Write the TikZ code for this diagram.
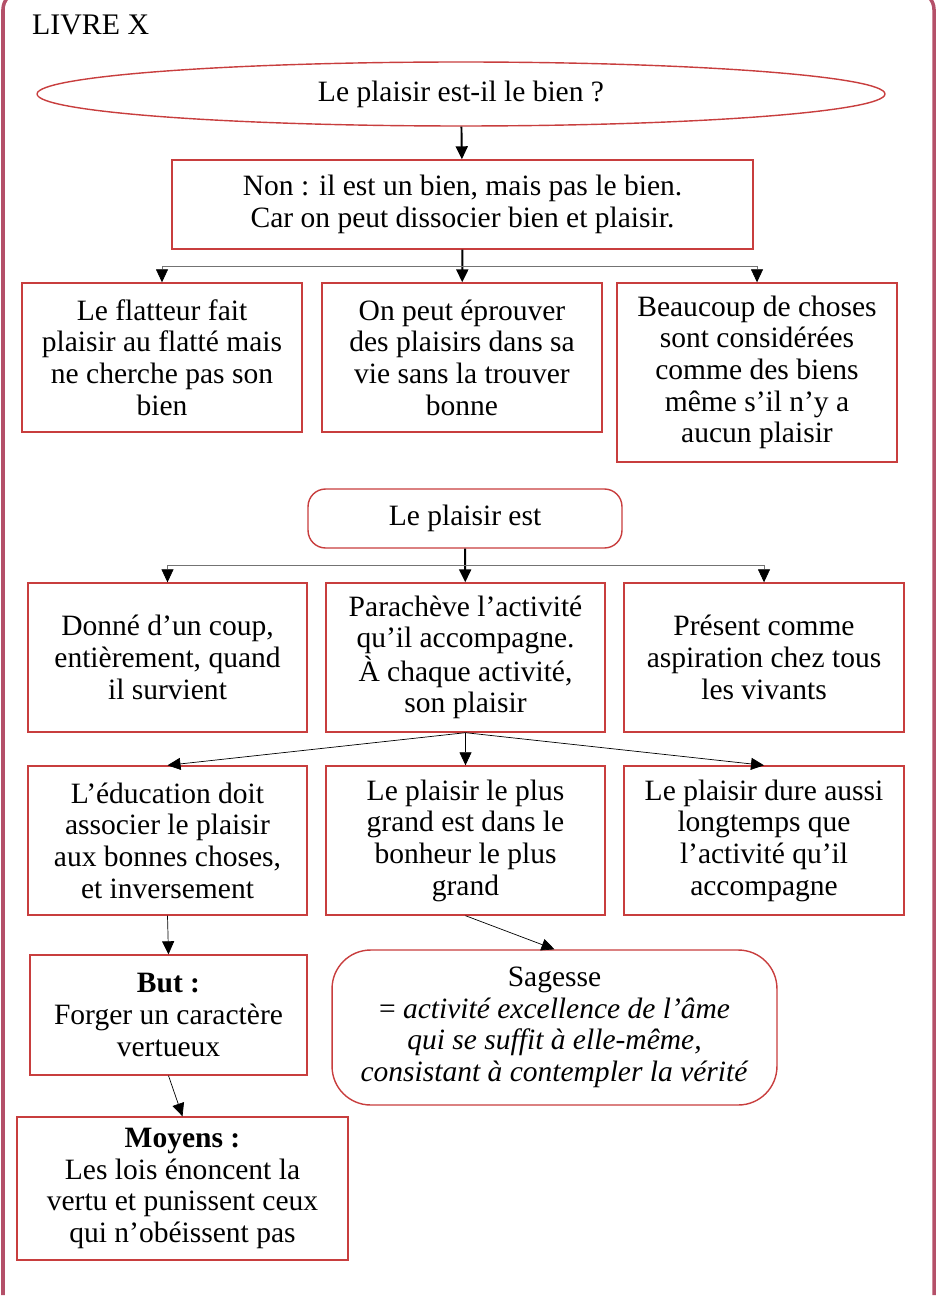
\documentclass[tikz,border=0pt]{standalone}
\usepackage{fontspec}
\setmainfont{Liberation Serif}
\usetikzlibrary{positioning,arrows.meta,shapes.geometric}
\definecolor{boxred}{RGB}{200,62,62}
\definecolor{framerose}{RGB}{180,80,105}
\begin{document}
\begin{tikzpicture}[
      x=0.02cm, y=-0.02cm,
      every node/.style={font=\fontsize{16.8}{18}\selectfont, align=center},
      box/.style={draw=boxred, line width=0.8pt, inner sep=2pt},
      rbox/.style={box, rounded corners=10pt},
      oval/.style={draw=boxred, line width=0.8pt, ellipse, inner sep=0pt},
      trunk/.style={-{Triangle[length=0.26cm,width=0.24cm]}, line width=1.1pt},
      branch/.style={-{Triangle[length=0.26cm,width=0.24cm,color=black]}, line width=0.4pt, draw=black!55},
      arrow/.style={-{Triangle[length=0.26cm,width=0.24cm]}, line width=0.4pt},
    ]
    \useasboundingbox (0,0) rectangle (937,1297);
    \draw[framerose, line width=2pt] (3,1295) [rounded corners=10pt] -- (3,-8) -- (934,-8) [sharp corners] -- (934,1295);

    \node[anchor=west, font=\fontsize{17}{19}\selectfont] (titre) at (26,25) {LIVRE X};

    % question
    \node[oval, minimum width=16.96cm, minimum height=1.28cm] (q) at (461,94) {Le plaisir est-il le bien ?};
    \node[box, minimum width=11.62cm, minimum height=1.78cm] (non) at (462.5,204.5)
      {Non : il est un bien, mais pas le bien.\\ Car on peut dissocier bien et plaisir.};

    % premiere rangee
    \node[box, minimum width=5.6cm, minimum height=2.98cm] (flat) at (162,357.5)
      {Le flatteur fait\\ plaisir au flatté mais\\ ne cherche pas son\\ bien};
    \node[box, minimum width=5.6cm, minimum height=2.98cm] (vie) at (462,357.5)
      {On peut éprouver\\ des plaisirs dans sa\\ vie sans la trouver\\ bonne};
    \node[box, minimum width=5.6cm, minimum height=3.58cm] (choses) at (757,372.5)
      {Beaucoup de choses\\ sont considérées\\ comme des biens\\ même s’il n’y a\\ aucun plaisir};

    \node[rbox, minimum width=6.28cm, minimum height=1.18cm] (est) at (465,518.5) {Le plaisir est};

    % deuxieme rangee
    \node[box, minimum width=5.58cm, minimum height=2.98cm] (coup) at (167.5,657.5)
      {Donné d’un coup,\\ entièrement, quand\\ il survient};
    \node[box, minimum width=5.58cm, minimum height=2.98cm] (acheve) at (465.5,657.5)
      {Parachève l’activité\\ qu’il accompagne.\\ À chaque activité,\\ son plaisir};
    \node[box, minimum width=5.6cm, minimum height=2.98cm] (vivants) at (764,657.5)
      {Présent comme\\ aspiration chez tous\\ les vivants};

    % troisieme rangee
    \node[box, minimum width=5.58cm, minimum height=2.98cm] (educ) at (167.5,840.5)
      {L’éducation doit\\ associer le plaisir\\ aux bonnes choses,\\ et inversement};
    \node[box, minimum width=5.58cm, minimum height=2.98cm] (bonheur) at (465.5,840.5)
      {Le plaisir le plus\\ grand est dans le\\ bonheur le plus\\ grand};
    \node[box, minimum width=5.6cm, minimum height=2.98cm] (dure) at (764,840.5)
      {Le plaisir dure aussi\\ longtemps que\\ l’activité qu’il\\ accompagne};

    \node[box, minimum width=5.54cm, minimum height=2.4cm] (but) at (168.5,1015)
      {\textbf{But :}\\ Forger un caractère\\ vertueux};
    \node[rbox, rounded corners=22pt, minimum width=8.9cm, minimum height=3.1cm] (sagesse) at (554.5,1027.5)
      {Sagesse\\ = \textit{activité excellence de l’âme}\\ \textit{qui se suffit à elle-même,}\\ \textit{consistant à contempler la vérité}};
    \node[box, minimum width=6.62cm, minimum height=2.86cm] (moyens) at (182.5,1188.5)
      {\textbf{Moyens :}\\ Les lois énoncent la\\ vertu et punissent ceux\\ qui n’obéissent pas};

    \coordinate (j1) at (462,266);
    \coordinate (j2) at (465,565);

    \draw[trunk] (q) -- (non);
    \draw[trunk] (non) -- (vie);
    \draw[branch] (j1) -| (flat.north);
    \draw[branch] (j1) -| (choses.north);

    \draw[trunk] (est) -- (acheve);
    \draw[branch] (j2) -| (coup.north);
    \draw[branch] (j2) -| (vivants.north);

    \draw[arrow] (acheve.south) -- (educ.north);
    \draw[arrow] (acheve.south) -- (bonheur.north);
    \draw[arrow] (acheve.south) -- (dure.north);

    \draw[arrow] (educ.south) -- (but.north);
    \draw[arrow] (bonheur.south) -- (sagesse.north);
    \draw[arrow] (but.south) -- (moyens.north);
  \end{tikzpicture}
\end{document}
